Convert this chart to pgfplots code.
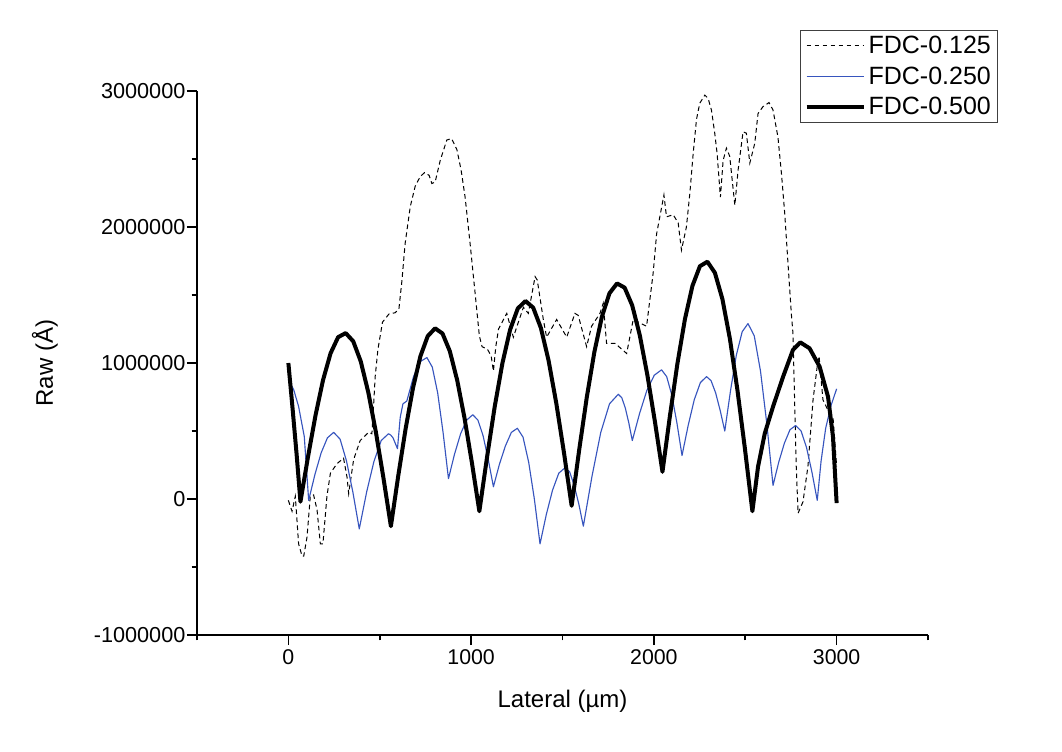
\documentclass[border=0pt]{standalone}
\usepackage{pgfplots}
\pgfplotsset{compat=1.18}
\usepackage{fontspec}
\setmainfont{Liberation Sans}
\definecolor{fdcblue}{RGB}{55,85,190}
\begin{document}
\begin{tikzpicture}
\path[use as bounding box] (-147.75pt,-87pt) rectangle (648.75pt,476.25pt);
\begin{axis}[
  scale only axis, width=548.25pt, height=408pt,
  xmin=-500, xmax=3500, ymin=-1, ymax=3,
  axis x line=bottom, axis y line=left,
  axis line style={-, line width=1.5pt, black},
  xtick={0,1000,2000,3000}, xticklabels={0,1000,2000,3000},
  minor xtick={-500,500,1500,2500,3500},
  ytick={-1,0,1,2,3}, yticklabels={-1000000,0,1000000,2000000,3000000},
  minor ytick={-0.5,0.5,1.5,2.5},
  tick align=outside,
  major tick length=7.5pt, minor tick length=4pt,
  every tick/.style={line width=1.2pt, black},
  x tick label style={font=\fontsize{16}{19}\selectfont},
  y tick label style={font=\fontsize{16.25}{19}\selectfont, inner sep=1pt},
  every axis x label/.style={at={(axis description cs:0.5,0)}, anchor=center, yshift=-50pt},
  every axis y label/.style={at={(axis description cs:-0.208,0.5)}, anchor=center, rotate=90},
  xlabel={Lateral (µm)}, ylabel={Raw (Å)},
  label style={font=\fontsize{18}{21}\selectfont},
  legend style={at={(axis description cs:1.0958,1.112)}, anchor=north east,
    draw=black!75, line width=0.8pt, font=\fontsize{18.75}{22}\selectfont,
    inner xsep=3pt, inner ysep=2pt, row sep=4.5pt},
  legend cell align=left,
  legend image code/.code={\draw[#1] (0pt,0pt) -- (43pt,0pt);},
  clip=false,
]
\addplot[black, line width=0.75pt, dash pattern=on 3.5pt off 2.5pt] coordinates {
(0,-0.01) (20,-0.09) (38,0.02) (56,-0.33) (75,-0.42) (84,-0.42) (102,-0.28) (120,0.02) (138,0.03) (157,-0.08) (175,-0.33) (189,-0.33) (211,0.02) (230,0.19) (266,0.26) (302,0.30) (321,0.16) (330,0.04) (357,0.29) (393,0.43) (439,0.49) (457,0.48) (466,0.68) (475,0.90) (490,1.10) (515,1.30) (550,1.36) (585,1.37) (605,1.40) (621,1.60) (639,1.88) (667,2.15) (694,2.30) (721,2.37) (745,2.40) (770,2.38) (785,2.32) (803,2.33) (831,2.49) (867,2.64) (893,2.65) (922,2.57) (945,2.42) (967,2.22) (995,1.87) (1022,1.51) (1045,1.20) (1060,1.12) (1090,1.10) (1110,1.05) (1122,0.94) (1135,1.12) (1150,1.25) (1195,1.365) (1231,1.19) (1286,1.41) (1313,1.365) (1350,1.635) (1362,1.61) (1395,1.32) (1413,1.19) (1468,1.32) (1523,1.19) (1568,1.365) (1586,1.35) (1632,1.12) (1659,1.27) (1705,1.365) (1723,1.44) (1741,1.145) (1787,1.145) (1851,1.07) (1887,1.32) (1960,1.27) (1996,1.66) (2015,1.95) (2055,2.235) (2069,2.075) (2106,2.09) (2133,2.03) (2151,1.83) (2178,2.00) (2197,2.25) (2215,2.54) (2233,2.79) (2251,2.91) (2279,2.97) (2297,2.945) (2315,2.86) (2333,2.69) (2346,2.54) (2364,2.22) (2379,2.49) (2397,2.58) (2415,2.52) (2443,2.16) (2461,2.42) (2488,2.70) (2506,2.69) (2525,2.47) (2552,2.615) (2570,2.835) (2597,2.885) (2630,2.915) (2652,2.86) (2679,2.66) (2698,2.395) (2716,2.10) (2734,1.73) (2752,1.365) (2761,1.22) (2770,0.73) (2779,0.24) (2789,-0.105) (2816,-0.02) (2843,0.24) (2871,0.73) (2898,1.02) (2904,1.05) (2925,0.73) (2950,0.66) (2980,0.605) (3000,0.24)
};
\addlegendentry{FDC-0.125}
\addplot[fdcblue, line width=0.85pt, line join=round] coordinates {
(0,0.88) (30,0.80) (56,0.68) (87,0.46) (111,-0.01)
(145.25,0.18) (179.5,0.34) (213.75,0.45) (248,0.49) (283,0.44) (318,0.28) (353,0.05) (388,-0.22)
(428,0.05) (468,0.275) (508,0.43) (548,0.48) (560.25,0.47) (572.5,0.45) (584.75,0.41) (597,0.37)
(612,0.60) (627,0.70) (648,0.72) (685,0.90) (721,1.01) (758,1.04) (787.5,0.97) (817,0.78) (846.5,0.49) (876,0.15)
(909.25,0.33) (942.5,0.48) (975.75,0.58) (1009,0.62) (1037.25,0.58) (1065.5,0.465) (1093.75,0.29) (1122,0.09)
(1154.75,0.255) (1187.5,0.39) (1220.25,0.49) (1253,0.52) (1284,0.455) (1315,0.27) (1346,0.00) (1377,-0.33)
(1411.25,-0.115) (1445.5,0.065) (1479.75,0.19) (1514,0.23) (1539,0.20) (1564,0.10) (1589,-0.035) (1614,-0.20)
(1661.75,0.17) (1709.5,0.49) (1757.25,0.70) (1805,0.77) (1824.25,0.745) (1843.5,0.67) (1862.75,0.56) (1882,0.43)
(1922,0.63) (1962,0.80) (2002,0.91) (2042,0.95) (2070,0.90) (2098,0.765) (2126,0.56) (2154,0.32)
(2187.5,0.54) (2221,0.73) (2254.5,0.856) (2288,0.90) (2313,0.87) (2338,0.78) (2363,0.65) (2388,0.50)
(2419.75,0.80) (2451.5,1.06) (2483.25,1.23) (2515,1.29) (2549.25,1.20) (2583.5,0.94) (2617.75,0.556) (2652,0.10)
(2683,0.27) (2714,0.41) (2745,0.51) (2776,0.54) (2805.5,0.50) (2835,0.38) (2864.5,0.20) (2894,-0.01)
(2915,0.28) (2940,0.52) (2970,0.69) (3000,0.81)
};
\addlegendentry{FDC-0.250}
\addplot[black, line width=3pt, line join=round] coordinates {
(0,1.00) (22,0.68) (45,0.33) (66,-0.02)
(107.25,0.309) (148.5,0.615) (189.75,0.875) (231,1.072) (272.25,1.190) (313.5,1.22) (354.75,1.160) (396,1.012) (437.25,0.785) (478.5,0.495) (519.75,0.159) (561,-0.20)
(601.3,0.171) (641.7,0.518) (682,0.817) (722.3,1.049) (762.7,1.198) (803,1.255) (843.3,1.217) (883.7,1.086) (924,0.872) (964.3,0.592) (1004.7,0.263) (1045,-0.09)
(1087.1,0.308) (1129.2,0.680) (1171.3,0.999) (1213.3,1.245) (1255.4,1.401) (1297.5,1.456) (1339.6,1.407) (1381.7,1.258) (1423.7,1.019) (1465.8,0.706) (1507.9,0.342) (1550,-0.05)
(1591.4,0.362) (1632.8,0.747) (1674.3,1.080) (1715.7,1.341) (1757.1,1.513) (1798.5,1.585) (1839.9,1.554) (1881.3,1.424) (1922.8,1.205) (1964.2,0.913) (2005.6,0.570) (2047,0.20)
(2088,0.613) (2129,0.997) (2170,1.323) (2211,1.567) (2252,1.712) (2293,1.745) (2334,1.663) (2375,1.470) (2416,1.178) (2457,0.803) (2498,0.372) (2539,-0.09)
(2570,0.238) (2607,0.483) (2652,0.679) (2707,0.899) (2761,1.096) (2801,1.152) (2852,1.108) (2907,0.973) (2953,0.752) (2980,0.458) (3000,-0.03)
};
\addlegendentry{FDC-0.500}
\end{axis}
\end{tikzpicture}
\end{document}
